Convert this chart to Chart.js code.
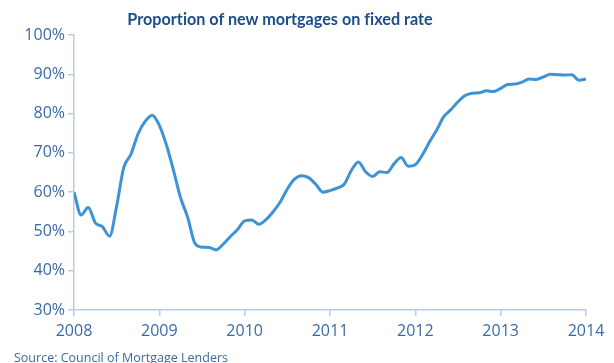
<!DOCTYPE html>
<html lang="en">
<head>
  <meta charset="UTF-8" />
  <title>Proportion of new mortgages on fixed rate</title>
  <script src="https://cdn.jsdelivr.net/npm/chart.js"></script>
  <style>
    body {
      margin: 0;
      padding: 0;
      background: #ffffff;
      font-family: 'Open Sans', sans-serif;
    }

    .wrap {
      position: relative;
      width: 614px;
      height: 363px;
      overflow: hidden;
    }

    .title {
      position: absolute;
      left: 0;
      width: 560px;
      top: 9px;
      text-align: center;
      font-family: 'Lato', sans-serif;
      font-size: 16.2px;
      font-weight: 700;
      font-variant-ligatures: none;
      color: #1b4f8a;
    }

    .source {
      position: absolute;
      left: 14px;
      top: 349px;
      font-size: 12.5px;
      color: #3a6aa6;
    }

    canvas {
      position: absolute;
      left: 0;
      top: 0;
    }
  </style>
</head>
<body>
  <div class="wrap">
    <canvas id="mortgageChart" width="614" height="363"></canvas>
    <div class="title">Proportion of new mortgages on fixed rate</div>
    <div class="source">Source: Council of Mortgage Lenders</div>
  </div>

  <script>
    // monthly share of new mortgages on a fixed rate, Jan 2008 .. Jan 2014 (%)
    const startYear = 2008;
    const years = [2008, 2009, 2010, 2011, 2012, 2013, 2014];
    const fixedShare = [
      60, 54.2, 56.1, 52.2, 51.2, 48.8, 56.5, 66.3, 69.6, 74.8, 78, 79.6,   // 2008
      77, 72, 65.5, 58.5, 53.5, 47, 46, 45.9, 45.3, 46.8, 48.7, 50.5,       // 2009
      52.7, 52.9, 51.8, 53, 55, 57.5, 60.8, 63.3, 64.2, 63.7, 62, 60,       // 2010
      60.4, 61, 62, 65.5, 67.7, 65.2, 64, 65.2, 65, 67.2, 68.8, 66.6,       // 2011
      67, 69.5, 72.8, 75.8, 79.2, 81, 83, 84.6, 85.2, 85.3, 85.8, 85.6,     // 2012
      86.4, 87.4, 87.5, 88, 88.8, 88.7, 89.3, 90, 89.9, 89.8, 89.9, 88.5,   // 2013
      88.8                                                                  // 2014
    ];
    const yTicks = [30, 40, 50, 60, 70, 80, 90, 100];

    const axisColor = '#b9cbe0';
    const labelColor = '#3a6aa6';
    const tickFont = { family: "'Open Sans', sans-serif", size: 16 };

    const points = fixedShare.map((v, i) => ({ x: startYear + i / 12, y: v }));

    new Chart(document.getElementById('mortgageChart'), {
      type: 'line',
      data: {
        datasets: [{
          data: points,
          borderColor: '#3d93d4',
          borderWidth: 3,
          pointRadius: 0,
          fill: false,
          tension: 0.4,
          cubicInterpolationMode: 'monotone'
        }]
      },
      options: {
        responsive: false,
        animation: false,
        layout: { padding: { top: 35, right: 28, bottom: 0, left: 0 } },
        plugins: {
          legend: { display: false },
          tooltip: { enabled: false }
        },
        scales: {
          x: {
            type: 'linear',
            min: years[0],
            max: years[years.length - 1],
            afterBuildTicks: s => { s.ticks = years.map(y => ({ value: y })); },
            afterFit: s => { s.height = 53; },
            border: { color: axisColor, width: 1.5 },
            grid: { drawOnChartArea: false, color: axisColor, tickLength: 6, lineWidth: 1.5 },
            ticks: {
              color: labelColor,
              font: tickFont,
              padding: 6,
              maxRotation: 0,
              callback: v => String(v)
            }
          },
          y: {
            min: yTicks[0],
            max: yTicks[yTicks.length - 1],
            afterBuildTicks: s => { s.ticks = yTicks.map(v => ({ value: v })); },
            afterFit: s => { s.width = 74; },
            border: { color: axisColor, width: 1.5 },
            grid: { drawOnChartArea: false, color: axisColor, tickLength: 6, lineWidth: 1.5 },
            ticks: {
              color: labelColor,
              font: tickFont,
              padding: 3,
              callback: v => v + '%'
            }
          }
        }
      }
    });
  </script>
</body>
</html>
